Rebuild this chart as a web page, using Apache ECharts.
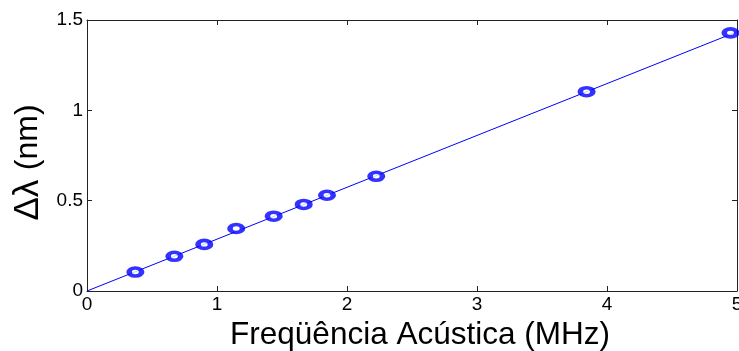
<!DOCTYPE html>
<html><head><meta charset="utf-8">
<script src="https://cdn.jsdelivr.net/npm/echarts@6/dist/echarts.min.js"></script>
<style>html,body{margin:0;padding:0;background:#fff}#c{width:739px;height:351px}</style>
</head><body><div id="c"></div>
<script>
const freq = [0.372, 0.672, 0.902, 1.148, 1.436, 1.667, 1.846, 2.225, 3.843, 4.95];
const dlambda = [0.105, 0.192, 0.258, 0.346, 0.414, 0.479, 0.530, 0.635, 1.103, 1.429];
const fitX = [0, 5];
const fitY = [0, 1.435];
const xTicks = [0, 1, 2, 3, 4, 5];
const yTicks = [0, 0.5, 1, 1.5];

const font = 'Liberation Sans, Arial, sans-serif';
const chart = echarts.init(document.getElementById('c'));
function ax(extra) {
  return Object.assign({
    axisLine: {show: true, onZero: false, lineStyle: {color: '#222', width: 1}},
    axisTick: {show: true, inside: true, length: 5, lineStyle: {color: '#222', width: 1}},
    splitLine: {show: false}
  }, extra);
}
chart.setOption({
  animation: false,
  grid: {left: 87, right: 2, top: 20, bottom: 60, containLabel: false, outerBoundsMode: 'none'},
  xAxis: [
    ax({type: 'value', min: 0, max: 5, interval: 1, position: 'bottom',
      axisLabel: {color: '#000', fontSize: 19, fontFamily: font, margin: 4,
        formatter: v => xTicks.includes(v) ? String(v) : ''},
      name: 'Freqüência Acústica (MHz)', nameLocation: 'middle', nameGap: 24,
      nameTextStyle: {color: '#000', fontSize: 31.5, fontFamily: font, verticalAlign: 'top', padding: [0, 0, 0, 16]}}),
    ax({type: 'value', min: 0, max: 5, interval: 1, position: 'top',
      axisLabel: {show: false}})
  ],
  yAxis: [
    ax({type: 'value', min: 0, max: 1.5, interval: 0.5, position: 'left',
      axisLabel: {color: '#000', fontSize: 19, fontFamily: font, margin: 4,
        formatter: v => yTicks.includes(v) ? String(v) : ''},
      name: '{a|Δλ}{s| }{b|(nm)}', nameLocation: 'middle', nameGap: 40,
      nameTextStyle: {color: '#000', fontFamily: font, padding: [0, 14, 0, 0],
        rich: {a: {fontSize: 35, fontFamily: font, color: '#000'},
               s: {fontSize: 34, fontFamily: font},
               b: {fontSize: 32, fontFamily: font, color: '#000'}}}}),
    ax({type: 'value', min: 0, max: 1.5, interval: 0.5, position: 'right',
      axisLabel: {show: false}})
  ],
  series: [
    {type: 'line', data: fitX.map((x, i) => [x, fitY[i]]), symbol: 'none',
      lineStyle: {color: '#0000ff', width: 1}, silent: true},
    {type: 'scatter', data: freq.map((x, i) => [x, dlambda[i]]), symbol: 'circle', symbolSize: [12.5, 8],
      itemStyle: {color: '#ffffff', borderColor: '#0000ff', borderWidth: 4.5}, z: 5}
  ]
});
</script></body></html>
